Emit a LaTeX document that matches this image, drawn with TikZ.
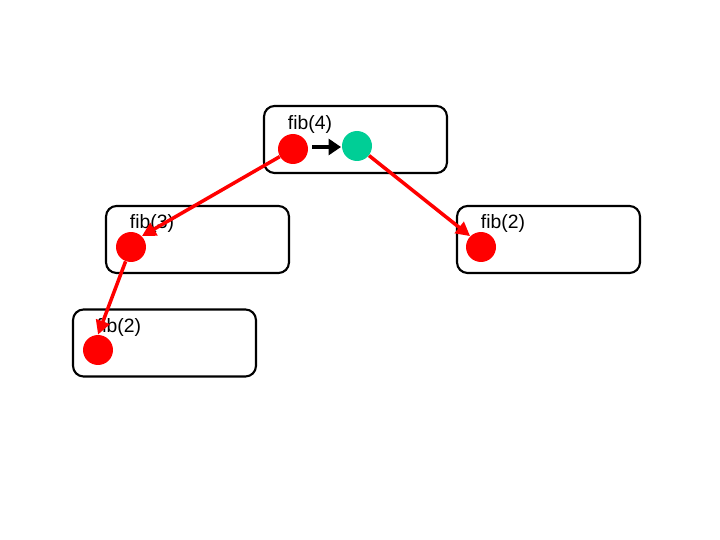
\documentclass[tikz,border=0pt]{standalone}
\usepackage{fontspec}
\setmainfont{Liberation Sans}
\usetikzlibrary{arrows.meta}
\definecolor{tealgreen}{RGB}{0,206,150}
\begin{document}
\begin{tikzpicture}[x=0.02cm,y=-0.02cm,
  framebox/.style={draw,line width=1.2pt,rounded corners=6pt,minimum width=3.66cm,minimum height=1.34cm,inner sep=0},
  reddot/.style={circle,fill=red,minimum size=0.6cm,inner sep=0},
  greendot/.style={circle,fill=tealgreen,minimum size=0.6cm,inner sep=0},
  calltext/.style={font=\fontsize{11}{13}\selectfont,inner sep=0},
  callarrow/.style={draw=red,line width=2pt,-{Triangle[length=8pt,width=8pt]}}]
\useasboundingbox (0,0) rectangle (720,540);
\node[framebox](box4) at (355.5,139.5){};
\node[framebox](box3) at (197.5,239.5){};
\node[framebox](box2a) at (548.5,239.5){};
\node[framebox](box2b) at (164.5,343){};
\node[calltext](t4) at (310,125){fib(4)};
\node[calltext](t3) at (152,224){fib(3)};
\node[calltext](t2a) at (503,224){fib(2)};
\node[calltext](t2b) at (119,327){fib(2)};
\node[reddot](r4) at (293,149){};
\node[greendot](g4) at (357,146){};
\node[reddot](r3) at (131,247){};
\node[reddot](r2a) at (481,247){};
\node[reddot](r2b) at (98,350){};
\coordinate (s4) at (312,147);
\coordinate (e4) at (341,147);
\draw[line width=2pt,-{Triangle[length=7pt,width=9pt]}] (s4) -- (e4);
\draw[callarrow] (r4) -- (r3.north east);
\draw[callarrow] (g4) -- (r2a.north west);
\draw[callarrow] (r3) -- (r2b.north);
\end{tikzpicture}
\end{document}
